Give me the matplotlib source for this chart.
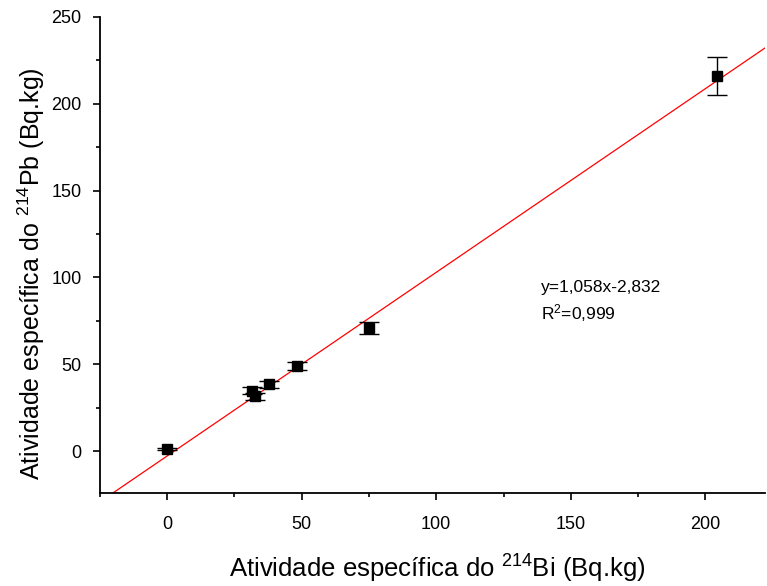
import matplotlib
matplotlib.use("Agg")
import matplotlib.pyplot as plt
import numpy as np
from matplotlib.ticker import MultipleLocator

plt.rcParams['font.family'] = ['Liberation Sans', 'DejaVu Sans']
plt.rcParams['mathtext.fontset'] = 'custom'
plt.rcParams['mathtext.rm'] = 'Liberation Sans'
plt.rcParams['mathtext.it'] = 'Liberation Sans:italic'
plt.rcParams['mathtext.bf'] = 'Liberation Sans:bold'

bi214 = [0.0, 31.4, 32.8, 37.8, 48.3, 75.2, 204.1]
pb214 = [1.2, 34.7, 31.5, 38.6, 49.1, 70.9, 216.0]
pb_err = [0.6, 2.0, 2.0, 2.0, 2.5, 3.7, 11.0]
slope = 1.058
intercept = -2.832
fit_x = [-20.0, 224.0]

fig = plt.figure(figsize=(7.67, 5.86), dpi=100)
ax = fig.add_axes([0.130, 0.159, 0.867, 0.812])

xf = np.array(fit_x)
ax.plot(xf, slope * xf + intercept, color='red', lw=0.9, zorder=2)
ax.errorbar(bi214, pb214, yerr=pb_err, fmt='s', color='black', ms=6.5,
            ecolor='black', elinewidth=1.0, capsize=7, capthick=1.0, zorder=3)

ax.set_xlim(-25, 222)
ax.set_ylim(-24, 250)
ax.xaxis.set_major_locator(MultipleLocator(50))
ax.xaxis.set_minor_locator(MultipleLocator(25))
ax.yaxis.set_major_locator(MultipleLocator(50))
ax.yaxis.set_minor_locator(MultipleLocator(25))
for s in ['top', 'right']:
    ax.spines[s].set_visible(False)
for s in ['left', 'bottom']:
    ax.spines[s].set_linewidth(1.3)
ax.tick_params(which='major', direction='out', length=5, width=1.2, labelsize=13)
ax.tick_params(axis='x', which='major', pad=12)
ax.tick_params(axis='y', which='major', pad=8)
ax.tick_params(which='minor', direction='out', length=3, width=1.2)

ax.set_xlabel(r'Atividade específica do $^{214}$Bi (Bq.kg)', fontsize=18.5, labelpad=13)
ax.set_ylabel(r'Atividade específica do $^{214}$Pb (Bq.kg)', fontsize=18)
ax.yaxis.set_label_coords(-0.08, 0.46)
ax.xaxis.set_label_coords(0.508, -0.125)

ax.text(139, 94.5, 'y=1,058x-2,832', fontsize=12.5, va='center', ha='left')
ax.text(139, 79.5, r'R$^{2}$=0,999', fontsize=12.5, va='center', ha='left')

fig.savefig('out.png', dpi=100)
